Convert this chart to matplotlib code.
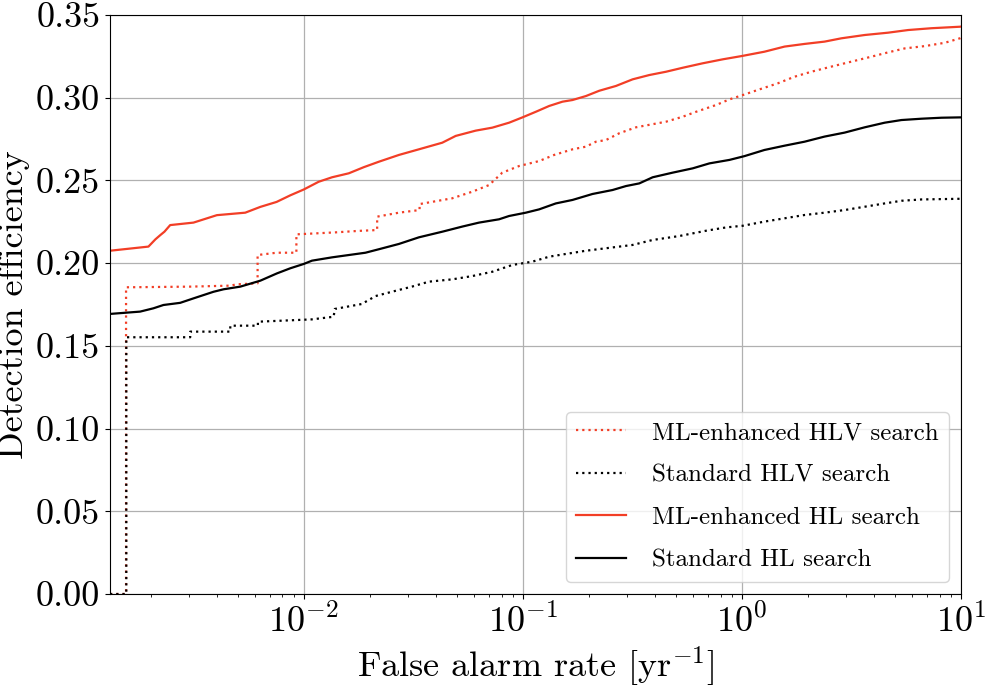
import matplotlib
matplotlib.use("Agg")
import matplotlib.pyplot as plt
from matplotlib.ticker import FormatStrFormatter

plt.rcParams['font.family'] = 'serif'
plt.rcParams['font.serif'] = ['cmr10']
plt.rcParams['mathtext.fontset'] = 'cm'
plt.rcParams['axes.unicode_minus'] = False
plt.rcParams['axes.formatter.use_mathtext'] = True

# ML-enhanced HLV search (dotted red)
far_ml_hlv = [1.306e-3, 1.546e-3, 1.546e-3, 3.034e-3, 4.623e-3, 4.955e-3, 6.16e-3, 6.16e-3,
              7.52e-3, 9.26e-3, 9.26e-3, 1.396e-2, 1.784e-2, 2.164e-2, 2.164e-2, 2.72e-2,
              3.38e-2, 3.38e-2, 4.765e-2, 5.885e-2, 7.015e-2, 8.065e-2, 9.618e-2, 0.1187,
              0.139, 0.1686, 0.1941, 0.2157, 0.2396, 0.2756, 0.3286, 0.4507, 0.5368, 0.6182,
              0.763, 0.8776, 1.0095, 1.182, 1.459, 1.740, 2.075, 2.561, 3.161, 3.902, 4.647,
              5.54, 6.839, 8.44, 9.89, 10.0]
eff_ml_hlv = [0.0, 0.0, 0.1854, 0.1858, 0.1864, 0.1872, 0.1878, 0.2049,
              0.2063, 0.2063, 0.2174, 0.2186, 0.2195, 0.2200, 0.2281, 0.2305,
              0.2321, 0.2357, 0.2392, 0.2432, 0.2472, 0.2547, 0.2587, 0.2617,
              0.2654, 0.2688, 0.2704, 0.2734, 0.2744, 0.2785, 0.2821, 0.2855, 0.2885, 0.2915,
              0.2956, 0.2990, 0.3016, 0.3047, 0.3087, 0.3127, 0.3157, 0.3188, 0.3218, 0.3248, 0.3274,
              0.3298, 0.3312, 0.3332, 0.3359, 0.3362]

# Standard HLV search (dotted black)
far_std_hlv = [1.306e-3, 1.55e-3, 1.55e-3, 3.034e-3, 3.034e-3, 4.623e-3, 4.623e-3, 6.18e-3,
               6.18e-3, 1.088e-2, 1.370e-2, 1.386e-2, 1.841e-2, 2.128e-2, 2.526e-2, 3.118e-2,
               3.728e-2, 4.765e-2, 5.885e-2, 7.26e-2, 8.96e-2, 0.1106, 0.1319, 0.1466, 0.1941,
               0.2396, 0.3171, 0.3915, 0.5186, 0.6867, 0.8478, 1.0095, 1.267, 1.566, 1.931,
               2.384, 2.943, 3.636, 4.487, 5.35, 6.603, 9.89, 10.0]
eff_std_hlv = [0.0, 0.0, 0.1552, 0.1552, 0.1586, 0.1586, 0.1622, 0.1622,
               0.1646, 0.1660, 0.1676, 0.1723, 0.1753, 0.1801, 0.1827, 0.1858,
               0.1888, 0.1902, 0.1922, 0.1948, 0.1989, 0.2009, 0.2039, 0.2049, 0.2075,
               0.2090, 0.2110, 0.2140, 0.2164, 0.2196, 0.2216, 0.2226, 0.2251, 0.2271, 0.2291,
               0.2305, 0.2321, 0.2341, 0.2361, 0.2377, 0.2385, 0.2389, 0.2389]

# ML-enhanced HL search (solid red)
far_ml_hl = [1.306e-3, 1.956e-3, 2.105e-3, 2.218e-3, 2.314e-3, 2.458e-3, 3.14e-3, 4.015e-3,
             5.41e-3, 6.34e-3, 7.52e-3, 8.69e-3, 1.0e-2, 1.171e-2, 1.347e-2, 1.606e-2, 1.88e-2,
             2.203e-2, 2.72e-2, 3.355e-2, 4.29e-2, 4.94e-2, 6.10e-2, 7.26e-2, 8.66e-2, 9.96e-2,
             0.1147, 0.1319, 0.1518, 0.1686, 0.1941, 0.2233, 0.2662, 0.3171, 0.3779, 0.4507,
             0.5368, 0.6627, 0.818, 1.0, 1.267, 1.566, 1.931, 2.384, 2.845, 3.636, 4.647,
             5.736, 7.34, 9.89, 10.0]
eff_ml_hl = [0.2075, 0.2100, 0.2144, 0.2170, 0.2190, 0.2230, 0.2245, 0.2290,
             0.2305, 0.2340, 0.2370, 0.2410, 0.2445, 0.2492, 0.2519, 0.2543, 0.2580,
             0.2613, 0.2654, 0.2688, 0.2728, 0.2769, 0.2801, 0.2819, 0.2849, 0.2881,
             0.2915, 0.2950, 0.2976, 0.2986, 0.3010, 0.3042, 0.3071, 0.3111, 0.3137, 0.3157,
             0.3181, 0.3208, 0.3232, 0.3252, 0.3278, 0.3309, 0.3325, 0.3339, 0.3359, 0.3379, 0.3393,
             0.3409, 0.3420, 0.3429, 0.3430]

# Standard HL search (solid black)
far_std_hl = [1.306e-3, 1.792e-3, 2.061e-3, 2.290e-3, 2.730e-3, 3.14e-3, 3.878e-3, 4.309e-3,
              5.136e-3, 6.339e-3, 7.548e-3, 8.69e-3, 1.0e-2, 1.091e-2, 1.347e-2, 1.914e-2,
              2.203e-2, 2.72e-2, 3.355e-2, 4.29e-2, 5.294e-2, 6.313e-2, 7.79e-2, 8.66e-2,
              0.1032, 0.1187, 0.1415, 0.1686, 0.2080, 0.2568, 0.2958, 0.3402, 0.3915, 0.4831,
              0.5964, 0.7109, 0.8776, 1.028, 1.267, 1.566, 1.931, 2.384, 2.943, 3.636, 4.487,
              5.35, 6.603, 8.152, 9.89, 10.0]
eff_std_hl = [0.1693, 0.1707, 0.1727, 0.1747, 0.1760, 0.1787, 0.1827, 0.1842,
              0.1858, 0.1894, 0.1938, 0.1969, 0.1995, 0.2015, 0.2035, 0.2063,
              0.2084, 0.2116, 0.2156, 0.2190, 0.2221, 0.2245, 0.2265, 0.2285,
              0.2305, 0.2325, 0.2361, 0.2382, 0.2418, 0.2442, 0.2466, 0.2482, 0.2519, 0.2547,
              0.2573, 0.2603, 0.2624, 0.2647, 0.2684, 0.2710, 0.2734, 0.2765, 0.2789, 0.2821, 0.2849,
              0.2865, 0.2873, 0.2879, 0.2881, 0.2881]

labels = ["ML-enhanced HLV search", "Standard HLV search",
          "ML-enhanced HL search", "Standard HL search"]
yticks = [0.00, 0.05, 0.10, 0.15, 0.20, 0.25, 0.30, 0.35]

RED = '#F23E26'
fig = plt.figure(figsize=(10, 7), dpi=100)
ax = fig.add_axes([0.11, 0.1514, 0.851, 0.8272])

ax.plot(far_ml_hlv, eff_ml_hlv, color=RED, lw=1.6, linestyle=(0, (1, 1.8)), label=labels[0])
ax.plot(far_std_hlv, eff_std_hlv, color='black', lw=1.6, linestyle=(0, (1, 1.8)), label=labels[1])
ax.plot(far_ml_hl, eff_ml_hl, color=RED, lw=1.6, label=labels[2])
ax.plot(far_std_hl, eff_std_hl, color='black', lw=1.6, label=labels[3])

ax.set_xscale('log')
ax.set_xlim(1.306e-3, 10)
ax.set_ylim(0, 0.35)
ax.set_yticks(yticks)
ax.yaxis.set_major_formatter(FormatStrFormatter('%.2f'))
ax.grid(True, which='major', color='#b0b0b0', lw=0.9)
ax.set_axisbelow(True)
ax.tick_params(axis='both', which='major', labelsize=26)

ax.set_xlabel(r"False alarm rate [yr$^{-1}$]", fontsize=26)
ax.set_ylabel("Detection efficiency", fontsize=26)

ax.legend(loc='lower right', fontsize=18, labelspacing=0.8, handletextpad=1.05,
          borderaxespad=0.5)

fig.savefig("out.png", dpi=100)
